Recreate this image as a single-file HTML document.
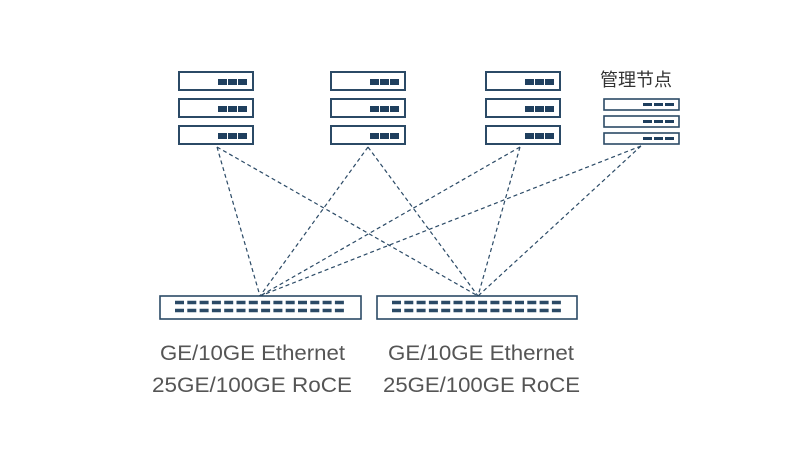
<!DOCTYPE html>
<html><head><meta charset="utf-8"><style>body{margin:0;background:#fff}</style></head><body>
<svg width="803" height="450" xmlns="http://www.w3.org/2000/svg">
<defs>
<g id="srv"><rect x="1" y="1" width="74" height="18" fill="#fff" stroke="#2b4a66" stroke-width="2"/><rect x="40" y="8" width="9" height="6" fill="#1f3f5e"/><rect x="50" y="8" width="9" height="6" fill="#1f3f5e"/><rect x="60" y="8" width="9" height="6" fill="#1f3f5e"/></g>
<g id="msrv"><rect x="1" y="1" width="75" height="11" fill="#fff" stroke="#2b4a66" stroke-width="1.6"/><rect x="40" y="5" width="9" height="3" fill="#1f3f5e"/><rect x="51" y="5" width="9" height="3" fill="#1f3f5e"/><rect x="62" y="5" width="9" height="3" fill="#1f3f5e"/></g>
<g id="ports">
<path d="M0 0h170" stroke="#2b4a66" stroke-width="3.5" stroke-dasharray="9 3.3"/>
<path d="M0 8h170" stroke="#2b4a66" stroke-width="3.5" stroke-dasharray="9 3.3"/>
</g>
</defs>
<g stroke="#2b4a66" stroke-width="1.2" stroke-dasharray="4 3" fill="none">
<path d="M217 147L260 296M217 147L478 296M368 147L260 296M368 147L478 296M520 147L260 296M520 147L478 296M641 146L260 296M641 146L478 296"/>
</g>
<use href="#srv" x="178" y="71"/><use href="#srv" x="178" y="98"/><use href="#srv" x="178" y="125"/>
<use href="#srv" x="330" y="71"/><use href="#srv" x="330" y="98"/><use href="#srv" x="330" y="125"/>
<use href="#srv" x="485" y="71"/><use href="#srv" x="485" y="98"/><use href="#srv" x="485" y="125"/>
<use href="#msrv" x="603" y="98"/><use href="#msrv" x="603" y="115"/><use href="#msrv" x="603" y="132"/>
<text x="600" y="86" font-family="Liberation Sans, Noto Sans CJK SC, sans-serif" font-size="18" fill="#333">管理节点</text>
<rect x="160" y="296" width="201" height="23" fill="#fff" stroke="#2b4a66" stroke-width="1.6"/>
<rect x="377" y="296" width="200" height="23" fill="#fff" stroke="#2b4a66" stroke-width="1.6"/>
<use href="#ports" x="175" y="302.5"/><use href="#ports" x="392" y="302.5"/>
<g font-family="Liberation Sans, sans-serif" font-size="21" fill="#555">
<text x="160" y="360" textLength="185" lengthAdjust="spacingAndGlyphs">GE/10GE Ethernet</text>
<text x="152" y="392" textLength="200" lengthAdjust="spacingAndGlyphs">25GE/100GE RoCE</text>
<text x="388" y="360" textLength="186" lengthAdjust="spacingAndGlyphs">GE/10GE Ethernet</text>
<text x="383" y="392" textLength="197" lengthAdjust="spacingAndGlyphs">25GE/100GE RoCE</text>
</g>
</svg>
</body></html>
